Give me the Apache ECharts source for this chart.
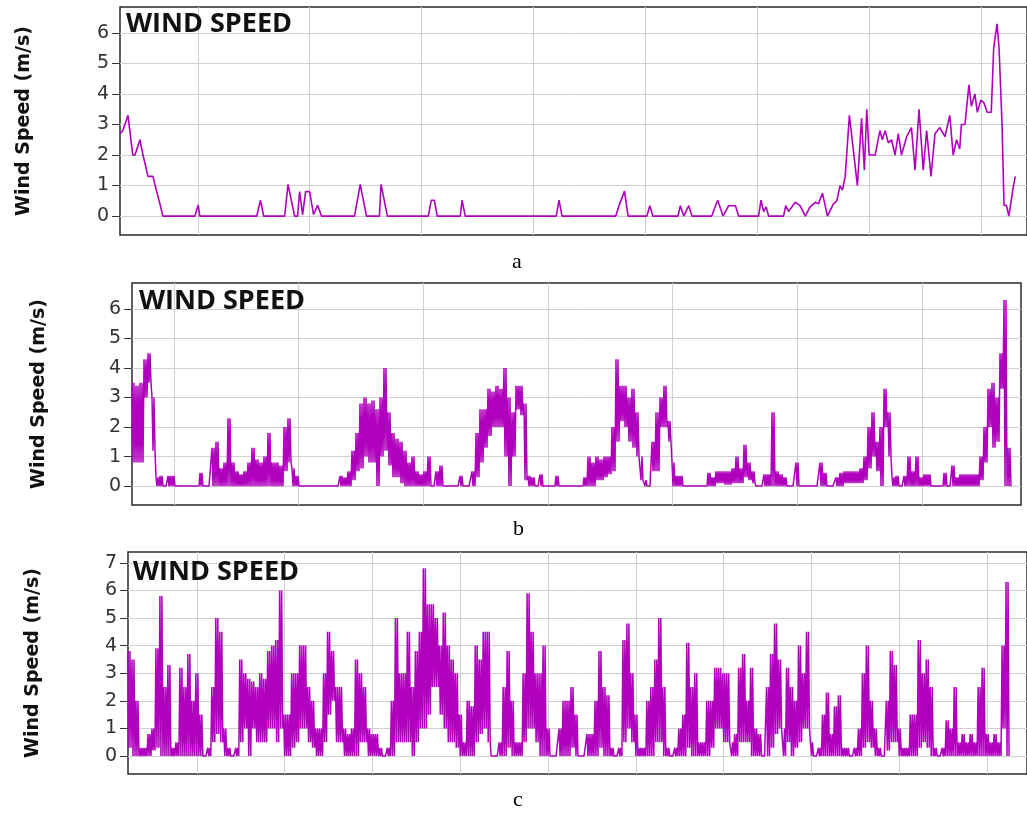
<!DOCTYPE html>
<html><head><meta charset="utf-8">
<script src="https://cdn.jsdelivr.net/npm/echarts@6/dist/echarts.min.js"></script>
<style>html,body{margin:0;padding:0;background:#fff}#c{width:1027px;height:815px}</style>
</head><body><div id="c"></div>
<script>
// ---- Panel a: time (sample units) and wind speed (m/s)
const aTime = [0,0.7,1,2,3.2,3.75,5,5.75,6.5,7,8.25,9,10,10.75,18.75,19.6,20,34.25,35.2,36,41.25,42.1,43.75,44.5,45,45.75,46.5,47.5,48.5,49.5,50.5,58.75,60.2,61.75,65,65.4,67,77.25,78,78.75,79.5,85.25,85.7,86.5,109.3,110,110.75,124.2,125.2,126.4,127.3,132,132.75,133.5,139.8,140.4,141.25,142.5,143.3,148.25,149.75,151.1,152.5,154.2,155,160,160.6,161.25,161.9,162.5,166.25,166.8,167.5,169.2,170.4,171.7,172.9,174.2,175,176,177.25,177.75,178.75,179.6,180.4,181,181.7,182.75,184.75,185.8,186.5,187.1,187.7,189.2,190.4,191,191.7,192.5,193.3,194.2,195,195.8,197.1,198.3,199.2,200.2,201.25,202.1,203.2,204.2,205.4,206.7,207.9,208.75,209.6,210.4,210.8,211.7,212.7,213.3,214.2,214.8,215.7,216.5,217.3,218.3,218.9,219.75,220.25,221,221.5,222.1,222.7,223.75,224.3];
const aSpeed = [2.7,2.8,2.8,3.3,2.0,2.0,2.5,2.0,1.6,1.3,1.3,0.9,0.4,0,0,0.36,0,0,0.52,0,0,1.04,0,0,0.8,0.05,0.8,0.8,0.05,0.35,0,0,1.04,0,0,1.04,0,0,0.52,0.52,0,0,0.52,0,0,0.52,0,0,0.4,0.82,0,0,0.34,0,0,0.34,0,0.34,0,0,0.52,0,0.34,0.34,0,0,0.52,0.15,0.3,0,0,0.34,0.15,0.45,0.34,0,0.3,0.45,0.4,0.75,0,0,0.4,0.5,1.0,0.85,1.3,3.3,1.0,3.2,1.5,3.5,2.0,2.0,2.8,2.5,2.8,2.4,2.5,2.0,2.7,2.0,2.6,2.9,1.5,3.5,1.5,2.8,1.3,2.7,2.9,2.6,3.3,2.0,2.5,2.2,3.0,3.0,4.3,3.6,4.0,3.4,3.8,3.7,3.4,3.4,5.5,6.3,5.5,3.0,0.35,0.35,0,0.9,1.3];

// ---- Panel b: per-sample high / low of the fast-varying signal
const bHigh = [3.5,3.4,3.5,4.3,4.5,3.0,0.3,0.35,0,0.35,
0.35,0,0,0,0,0,0,0.45,0,0,
1.3,1.5,0.6,0.8,2.3,0.8,0.5,0.4,0.5,0.8,
1.3,0.9,0.8,1.0,1.8,0.8,0.8,0.7,2.0,2.3,
0.6,0.35,0,0,0,0,0,0,0,0,
0,0,0.35,0.3,0.5,1.2,1.8,2.8,3.0,2.8,
2.9,2.6,3.0,4.0,2.5,1.8,1.6,1.5,1.2,0.8,
1.0,0.5,0.4,0.5,1.0,0,0.5,0.7,0,0,
0,0,0.35,0,0,0.5,1.8,2.6,2.6,3.3,
3.2,3.4,3.3,4.0,3.0,2.5,3.4,3.4,2.8,0.35,
0.3,0,0.4,0,0,0,0.35,0,0,0,
0,0,0,0.3,1.0,0.8,1.0,0.9,1.0,1.0,
2.0,4.3,3.4,3.4,3.0,3.3,2.5,1.0,0.2,0,
1.5,2.5,3.0,3.4,2.2,0.8,0.35,0.35,0,0,
0,0,0,0,0.45,0.3,0.5,0.5,0.5,0.5,
0.6,1.0,0.6,1.4,0.8,0.5,0,0,0.4,0.4,
2.5,0.5,0.4,0.3,0,0,0.8,0,0,0,
0,0,0.8,0.45,0,0,0.3,0.45,0.5,0.5,
0.5,0.5,0.6,1.0,2.0,2.5,1.5,2.0,3.3,2.5,
0.3,0.35,0,0.35,1.0,0.5,1.0,0.3,0.4,0.4,
0,0,0,0.45,0,0.7,0.3,0.4,0.4,0.4,
0.4,0.4,1.0,2.0,3.3,3.5,3.0,4.5,6.3,1.3];
const bLow = [0.8,0.8,0.8,3.0,3.5,1.2,0,0,0,0,
0,0,0,0,0,0,0,0,0,0,
0,0,0,0,0,0,0,0,0,0,
0,0,0,0,0,0,0,0,0.5,0.8,
0,0,0,0,0,0,0,0,0,0,
0,0,0,0,0,0.2,0.5,0.6,1.0,0.8,
0.8,0,1.0,1.2,0.7,0.3,0.3,0.1,0,0,
0,0,0,0,0,0,0,0,0,0,
0,0,0,0,0,0,0.3,0.8,1.3,1.7,
2.0,2.0,2.0,1.0,0,1.0,2.6,2.4,0.2,0,
0,0,0,0,0,0,0,0,0,0,
0,0,0,0,0,0,0.2,0.2,0.3,0.4,
0.5,1.5,2.2,2.0,1.5,1.3,1.0,0.2,0,0,
0.5,0.5,2.0,2.0,1.5,0,0,0,0,0,
0,0,0,0,0,0,0.1,0.1,0.05,0.05,
0.1,0.1,0.1,0.3,0.2,0.1,0,0,0,0,
0,0,0,0,0,0,0,0,0,0,
0,0,0,0,0,0,0,0,0.1,0.1,
0.1,0.1,0.1,0.2,0.6,1.0,0.5,0,2.0,1.0,
0,0,0,0,0,0,0,0,0,0,
0,0,0,0,0,0,0,0,0,0,
0,0,0.2,0.8,2.0,1.3,1.5,3.3,0,0];

// ---- Panel c: per-sample high / low
const cHigh = [3.8,3.5,2.0,0.3,0.3,0.8,1.0,3.9,5.8,2.5,
3.3,0.3,0.5,3.2,2.5,3.7,2.0,3.0,1.5,0,
0.3,2.5,5.0,4.5,1.0,0.3,0,0.3,3.5,3.0,
2.8,2.7,2.5,3.0,2.8,3.8,4.0,4.2,6.0,1.5,
1.5,3.0,3.0,4.0,4.0,2.5,2.0,1.0,1.0,3.0,
4.5,3.8,2.5,2.5,1.0,0.8,1.0,3.5,3.0,2.5,
1.0,0.8,0.8,0.3,0,0.3,2.0,5.0,3.0,3.0,
4.5,2.5,3.8,4.5,6.8,5.5,5.5,5.0,4.0,5.2,
4.0,3.5,3.0,1.5,0.5,2.0,1.8,4.0,3.5,4.5,
4.5,0,0,0.5,2.5,3.8,2.0,0.5,0.5,3.0,
5.9,4.5,3.0,3.0,4.0,1.0,0,0,1.0,2.0,
2.0,2.5,1.5,0,0,0.8,0.8,2.0,3.8,2.5,
2.2,0.3,0,0.3,4.2,4.8,3.0,1.5,0.3,0.3,
2.0,2.5,3.5,5.0,2.5,0.3,0,0.3,1.0,1.5,
4.1,2.5,3.0,0.5,0.5,2.0,2.0,3.2,3.2,3.0,
3.0,0.5,0.8,3.2,3.7,2.0,3.2,1.0,0.8,0,
2.5,3.7,4.8,3.5,1.0,3.2,2.5,2.0,4.0,3.0,
4.5,0.5,0,0.3,1.5,2.3,0.8,1.8,2.2,0.3,
0.3,0,0.3,1.0,3.0,4.0,2.0,1.0,0.3,0,
2.0,3.8,3.3,1.0,0.3,0.3,1.5,1.5,4.2,3.0,
3.5,2.5,0.3,0,0.3,1.3,1.0,2.5,0.5,0.8,
0.5,0.8,0.5,2.5,3.2,0.8,0.5,0.8,0.5,4.0,6.3];
const cLow = [0.3,0,0,0,0,0,0.2,0.3,0,0,
0,0,0,0,0,0,0,0,0,0,
0,0.5,0.8,0.5,0,0,0,0,0.5,1.0,
0,1.0,0.5,0.5,0.5,1.0,1.0,0.5,1.0,0,
0,0.3,0.5,1.0,1.0,0.5,0.3,0,0,0.5,
1.5,2.0,0.5,0.5,0,0,0,0,0.5,0.5,
0,0,0,0,0,0,0,0.5,0.5,0.5,
0.5,0,0.5,1.0,1.0,1.5,2.5,2.5,1.5,1.0,
0.5,0.5,0.3,0,0,0,0,0.5,0.8,1.0,
0.5,0,0,0,0,0.3,0,0,0,0.5,
1.0,1.0,0.5,0,0,0,0,0,0,0,
0,0.3,0,0,0,0,0,0,0.3,0,
0,0,0,0,0.5,1.0,0.5,0,0,0,
0,0,0.5,0.5,0,0,0,0,0,0,
0.3,0,0,0,0,0,0.3,1.0,1.0,0.5,
0.5,0,0,0.5,0.5,0.5,0,0,0,0,
0,0.3,0.8,1.0,0,0.5,0,0.3,0.5,1.0,
1.0,0,0,0,0,0,0,0,0,0,
0,0,0,0,0.3,0.5,0.3,0,0,0,
0.2,0.5,0.5,0,0,0,0,0,0.3,0.5,
0.3,0,0,0,0,0,0,0,0,0,
0,0,0,0,0,0,0,0,0,1.0,0];

// ---- Tick values
const yTicksAB = [0,1,2,3,4,5,6];
const yTicksC = [0,1,2,3,4,5,6,7];
const aGridX = [19.5,47.54,75.58,103.62,131.66,159.7,187.74,215.78];
const bGridX = [10.5,41.67,72.84,104.01,135.18,166.35,197.52];
const cGridX = [17.25,39.25,61.25,83.25,105.25,127.25,149.25,171.25,193.25,215.25];

const LINE = '#B000BE';
const GRIDC = '#cfcfcf';
const aData = aTime.map((t,i)=>[t,aSpeed[i]]);
// each sample spans the high/low range of the fast oscillation within it
function zig(hi, lo){
  const out=[];
  for(let i=0;i<hi.length;i++){
    out.push([i,hi[i]]); out.push([i+0.25,lo[i]]);
    out.push([i+0.5,hi[i]]); out.push([i+0.75,lo[i]]);
  }
  return out;
}

function gridCfg(left, top, width, height){
  return {left, top, width, height, show:true, borderColor:'#2a2a2a', borderWidth:1.5, backgroundColor:'transparent', containLabel:false};
}
function xCfg(idx, max, ticks){
  return {type:'value', gridIndex:idx, min:0, max:max,
    axisLine:{show:false}, axisTick:{show:false, customValues:ticks}, axisLabel:{show:false, customValues:ticks},
    splitLine:{show:true, lineStyle:{color:GRIDC, width:1}}};
}
function yCfg(idx, min, max, ticks, gap){
  return {type:'value', gridIndex:idx, min, max,
    axisLine:{show:false},
    axisTick:{show:true, length:8, customValues:ticks, lineStyle:{color:'#333', width:1}},
    axisLabel:{customValues:ticks, fontFamily:'DejaVu Sans', fontSize:19, color:'#333', margin:11},
    splitLine:{show:true, lineStyle:{color:GRIDC, width:1}},
    name:'Wind Speed (m/s)', nameLocation:'middle', nameGap:gap,
    nameTextStyle:{fontFamily:'DejaVu Sans', fontWeight:'bold', fontSize:19, color:'#111'}};
}
const titleStyle = {fontFamily:'Open Sans', fontWeight:'bold', fontSize:27, color:'#111'};
const capStyle = {fontFamily:'Liberation Serif', fontWeight:'normal', fontSize:22, color:'#000'};

const chart = echarts.init(document.getElementById('c'), null, {renderer:'canvas'});
chart.setOption({
  animation:false,
  backgroundColor:'#fff',
  title:[
    {text:'WIND SPEED', left:126, top:11, padding:0, textStyle:titleStyle},
    {text:'WIND SPEED', left:139, top:288, padding:0, textStyle:titleStyle},
    {text:'WIND SPEED', left:133, top:559, padding:0, textStyle:titleStyle},
    {text:'a', left:512, top:251, padding:0, textStyle:capStyle},
    {text:'b', left:513, top:518, padding:0, textStyle:capStyle},
    {text:'c', left:513, top:789, padding:0, textStyle:capStyle}
  ],
  grid:[gridCfg(120,7,909,228), gridCfg(132,283,889,222), gridCfg(128,552,901,222)],
  xAxis:[xCfg(0,227.25,aGridX), xCfg(1,222.25,bGridX), xCfg(2,225.25,cGridX)],
  yAxis:[yCfg(0,-0.62,6.85,yTicksAB,86), yCfg(1,-0.64,6.88,yTicksAB,83), yCfg(2,-0.65,7.39,yTicksC,85)],
  series:[
    {type:'line', xAxisIndex:0, yAxisIndex:0, data:aData, showSymbol:false, lineStyle:{color:LINE, width:1.6}, z:3},
    {type:'line', xAxisIndex:1, yAxisIndex:1, data:zig(bHigh,bLow), showSymbol:false, lineStyle:{color:LINE, width:1.5}, z:3},
    {type:'line', xAxisIndex:2, yAxisIndex:2, data:zig(cHigh,cLow), showSymbol:false, lineStyle:{color:LINE, width:1.5}, z:3}
  ]
});
</script></body></html>
